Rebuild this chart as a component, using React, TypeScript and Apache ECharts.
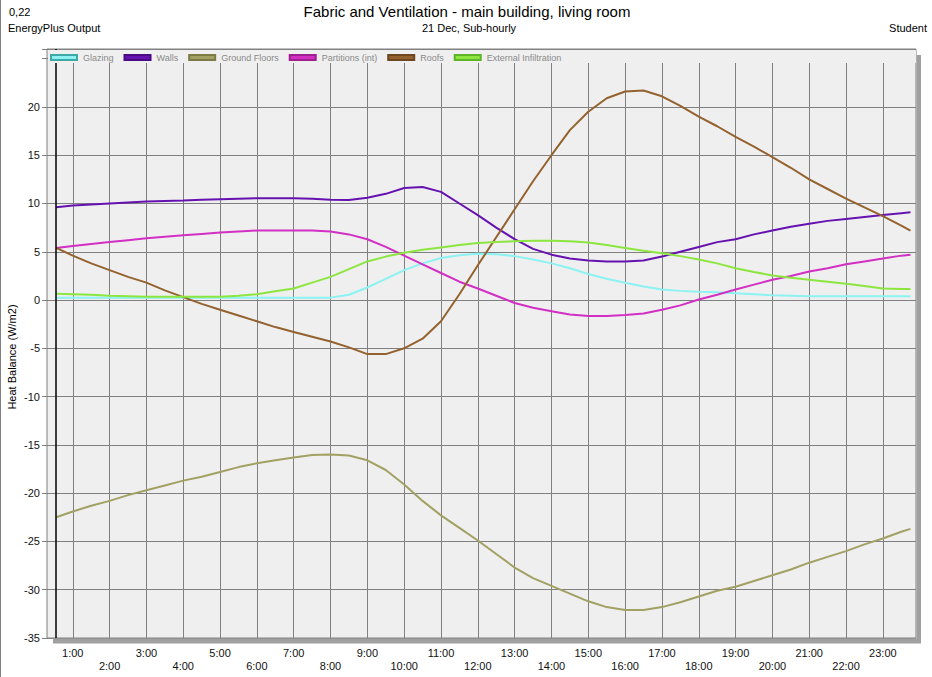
import React, { useEffect, useRef } from "react";
import * as echarts from "echarts";

const FONT = "'Liberation Sans', Arial, sans-serif";

const seriesNames = ["Glazing", "Walls", "Ground Floors", "Partitions (int)", "Roofs", "External Infiltration"];
const seriesColors = ["#8CF2F2", "#6612B0", "#A3A063", "#D22FC4", "#94622F", "#8CE63F"];
const swatchBorders = ["#3FA8A8", "#4A0A85", "#7C7A45", "#A0208F", "#6E4620", "#5FB528"];

const hours = [
  0.55, 1, 1.5, 2, 2.5, 3, 3.5, 4, 4.5, 5, 5.5, 6, 6.5, 7, 7.5, 8, 8.5, 9, 9.5, 10, 10.5, 11, 11.5, 12,
  12.5, 13, 13.5, 14, 14.5, 15, 15.5, 16, 16.5, 17, 17.5, 18, 18.5, 19, 19.5, 20, 20.5, 21, 21.5, 22,
  22.5, 23, 23.5, 23.75,
];

const glazing = [
  0.25, 0.25, 0.25, 0.25, 0.25, 0.25, 0.25, 0.25, 0.25, 0.25, 0.25, 0.25, 0.25, 0.25, 0.25, 0.25,
  0.55, 1.3, 2.2, 3.1, 3.8, 4.35, 4.65, 4.8, 4.75, 4.55, 4.2, 3.8, 3.3, 2.7, 2.2, 1.8, 1.4, 1.1, 0.95,
  0.85, 0.8, 0.7, 0.6, 0.5, 0.45, 0.4, 0.4, 0.4, 0.4, 0.4, 0.4, 0.4,
];
const walls = [
  9.6, 9.8, 9.9, 10.0, 10.1, 10.2, 10.25, 10.3, 10.4, 10.45, 10.5, 10.55, 10.55, 10.55, 10.5, 10.4,
  10.35, 10.6, 11.0, 11.6, 11.7, 11.2, 10.0, 8.8, 7.5, 6.3, 5.3, 4.7, 4.3, 4.1, 4.0, 4.0, 4.1, 4.5,
  5.0, 5.5, 6.0, 6.3, 6.8, 7.2, 7.6, 7.9, 8.2, 8.4, 8.6, 8.8, 9.0, 9.1,
];
const groundFloors = [
  -22.5, -21.9, -21.3, -20.8, -20.2, -19.7, -19.2, -18.7, -18.3, -17.8, -17.3, -16.9, -16.6, -16.3,
  -16.05, -16.0, -16.1, -16.6, -17.6, -19.1, -20.8, -22.3, -23.6, -24.9, -26.3, -27.7, -28.8, -29.6,
  -30.4, -31.2, -31.8, -32.1, -32.1, -31.8, -31.3, -30.7, -30.1, -29.7, -29.1, -28.5, -27.9, -27.2,
  -26.6, -26.0, -25.3, -24.7, -24.0, -23.7,
];
const partitions = [
  5.4, 5.6, 5.8, 6.0, 6.2, 6.4, 6.55, 6.7, 6.85, 7.0, 7.1, 7.2, 7.2, 7.2, 7.2, 7.1, 6.8, 6.3, 5.5, 4.6,
  3.7, 2.8, 1.9, 1.2, 0.45, -0.3, -0.8, -1.15, -1.5, -1.65, -1.65, -1.55, -1.4, -1.0, -0.55, 0.05,
  0.55, 1.1, 1.6, 2.1, 2.5, 2.95, 3.3, 3.7, 4.0, 4.3, 4.6, 4.7,
];
const roofs = [
  5.4, 4.6, 3.8, 3.1, 2.4, 1.8, 1.0, 0.3, -0.4, -1.0, -1.6, -2.2, -2.8, -3.3, -3.8, -4.3, -4.9, -5.6,
  -5.6, -5.0, -4.0, -2.2, 0.6, 3.6, 6.5, 9.4, 12.3, 15.0, 17.6, 19.5, 20.9, 21.6, 21.7, 21.1, 20.1,
  19.0, 18.0, 16.9, 15.9, 14.8, 13.7, 12.5, 11.5, 10.5, 9.6, 8.7, 7.7, 7.2,
];
const infiltration = [
  0.65, 0.6, 0.55, 0.45, 0.4, 0.35, 0.35, 0.35, 0.35, 0.35, 0.45, 0.6, 0.9, 1.2, 1.8, 2.4, 3.2, 4.0,
  4.5, 4.9, 5.2, 5.45, 5.7, 5.9, 6.0, 6.1, 6.15, 6.15, 6.1, 5.95, 5.7, 5.4, 5.1, 4.85, 4.55, 4.2, 3.8,
  3.3, 2.9, 2.55, 2.3, 2.1, 1.9, 1.7, 1.45, 1.2, 1.15, 1.15,
];

const hourTicks = [1, 2, 3, 4, 5, 6, 7, 8, 9, 10, 11, 12, 13, 14, 15, 16, 17, 18, 19, 20, 21, 22, 23];
const startMarker = 0.55;

const titleText = "Fabric and Ventilation - main building, living room";
const subTitleText = "21 Dec, Sub-hourly";
const leftTop = "0,22";
const leftSub = "EnergyPlus Output";
const rightSub = "Student";
const yName = "Heat Balance (W/m2)";

export default function App() {
  const ref = useRef<HTMLDivElement>(null);
  useEffect(() => {
    document.body.style.margin = "0";
    if (!ref.current) return;
    const chart = echarts.init(ref.current, null, { renderer: "svg" });
    const allValues = [glazing, walls, groundFloors, partitions, roofs, infiltration];
    const series: any[] = allValues.map((vals, i) => ({
      name: seriesNames[i],
      type: "line",
      showSymbol: false,
      symbol: "none",
      z: 3,
      color: seriesColors[i],
      itemStyle: { color: seriesColors[i], borderColor: swatchBorders[i], borderWidth: 1 },
      lineStyle: { color: seriesColors[i], width: 2 },
      data: hours.map((h, j) => [h, vals[j]]),
    }));
    series[0].markLine = {
      silent: true,
      symbol: ["none", "none"],
      label: { show: false },
      lineStyle: { color: "#000", width: 1.5, type: "solid" },
      data: [{ xAxis: startMarker }],
    };
    chart.setOption({
      animation: false,
      textStyle: { fontFamily: FONT },
      grid: {
        left: 47,
        right: 16,
        top: 49,
        bottom: 39,
        show: true,
        backgroundColor: "#EFEFEF",
        borderColor: "#808080",
        borderWidth: 1,
      },
      legend: {
        data: seriesNames,
        left: 50,
        top: 53,
        z: 20,
        icon: "rect",
        itemWidth: 26,
        itemHeight: 5,
        itemGap: 10,
        padding: 0,
        textStyle: { fontSize: 9, color: "#8a8a8a", fontFamily: FONT, padding: [0, 0, 0, 1] },
      },
      xAxis: {
        type: "value",
        min: 0.3,
        max: 23.9,
        axisLine: { show: false },
        axisTick: { show: true, customValues: hourTicks, length: 8, lineStyle: { color: "#808080" } },
        axisLabel: {
          customValues: hourTicks,
          fontSize: 11,
          lineHeight: 13,
          margin: 8,
          color: "#111",
          fontFamily: FONT,
          formatter: (v: number) => (v % 2 === 1 ? `${v}:00` : `\n${v}:00`),
        },
        splitLine: { show: true, lineStyle: { color: "#808080", width: 1 } },
      },
      yAxis: {
        type: "value",
        min: -35,
        max: 26,
        interval: 5,
        axisLine: { show: false },
        axisTick: { show: true, length: 5, lineStyle: { color: "#808080" } },
        axisLabel: {
          fontSize: 11,
          margin: 7,
          color: "#111",
          fontFamily: FONT,
          formatter: (v: number) => (v <= 20 ? String(v) : ""),
        },
        splitLine: { show: true, lineStyle: { color: "#808080", width: 1 } },
      },
      graphic: [
        { type: "rect", z: 10, silent: true, shape: { x: 48, y: 50, width: 868, height: 13 }, style: { fill: "#EFEFEF" } },
        { type: "rect", z: 10, silent: true, shape: { x: 53, y: 638.5, width: 868, height: 5 }, style: { fill: "#A0A0A0" } },
        { type: "rect", z: 10, silent: true, shape: { x: 916.5, y: 55, width: 4.5, height: 588 }, style: { fill: "#A0A0A0" } },
        { type: "line", z: 10, silent: true, shape: { x1: 0.5, y1: 0, x2: 0.5, y2: 677 }, style: { stroke: "#808080", lineWidth: 1 } },
        { type: "text", z: 10, x: 9, y: 12, style: { text: leftTop, fontSize: 11, fontFamily: FONT, fill: "#000", align: "left", verticalAlign: "middle" } },
        { type: "text", z: 10, x: 467, y: 11, style: { text: titleText, fontSize: 15, fontFamily: FONT, fill: "#000", align: "center", verticalAlign: "middle" } },
        { type: "text", z: 10, x: 8, y: 28, style: { text: leftSub, fontSize: 11, fontFamily: FONT, fill: "#000", align: "left", verticalAlign: "middle" } },
        { type: "text", z: 10, x: 469, y: 28, style: { text: subTitleText, fontSize: 11, fontFamily: FONT, fill: "#000", align: "center", verticalAlign: "middle" } },
        { type: "text", z: 10, x: 927, y: 28, style: { text: rightSub, fontSize: 11, fontFamily: FONT, fill: "#000", align: "right", verticalAlign: "middle" } },
        { type: "text", z: 10, x: 12, y: 357, rotation: Math.PI / 2, style: { text: yName, fontSize: 11, fontFamily: FONT, fill: "#000", align: "center", verticalAlign: "middle" } },
      ],
      series,
    });
    return () => chart.dispose();
  }, []);
  return <div ref={ref} style={{ position: "absolute", left: 0, top: 0, width: 932, height: 677, background: "#fff" }} />;
}
